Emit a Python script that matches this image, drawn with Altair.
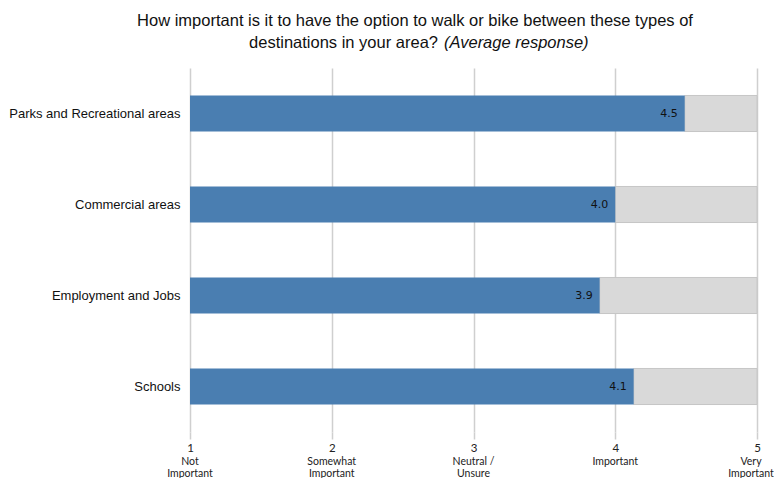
import altair as alt
import pandas as pd

categories = ["Parks and Recreational areas", "Commercial areas", "Employment and Jobs", "Schools"]
values = [4.49, 4.0, 3.89, 4.13]

tick_values = [1, 2, 3, 4, 5]
tick_descriptions = ["Not\nImportant", "Somewhat\nImportant", "Neutral /\nUnsure", "Important", "Very\nImportant"]

title_line1 = "How important is it to have the option to walk or bike between these types of"
title_line2 = "destinations in your area?"
title_italic = "(Average response)"

df = pd.DataFrame({"category": categories, "value": values})
df["start"] = 1
df["end"] = 5
desc_df = pd.DataFrame({"tick": tick_values, "desc": tick_descriptions})

x_scale = alt.Scale(domain=[1, 5], nice=False, zero=False)
y_enc = alt.Y("category:N", sort=categories, title=None,
              scale=alt.Scale(paddingInner=0.604, paddingOuter=0.302),
              axis=alt.Axis(ticks=False, domain=False, labelFont="Liberation Sans",
                            labelFontSize=13, labelColor="#111", labelPadding=10,
                            labelLimit=300))

base = alt.Chart(df)

gray = base.mark_bar(color="#d9d9d9", stroke="#c6c6c6", strokeWidth=1).encode(
    x=alt.X("value:Q", scale=x_scale, title=None,
            axis=alt.Axis(values=tick_values, format="d", grid=True, gridColor="#cfcfcf",
                          gridWidth=1.5, domain=False, tickColor="#cfcfcf", tickWidth=1.5,
                          tickSize=7, labelFont="Lato", labelFontSize=11.5, labelFlush=False,
                          labelColor="#222", labelPadding=3)),
    x2="end:Q",
    y=y_enc,
)

blue = base.mark_bar(color="#4a7eb1").encode(
    x=alt.X("start:Q", scale=x_scale),
    x2="value:Q",
    y=y_enc,
)

labels = base.mark_text(align="right", baseline="middle", dx=-7, font="DejaVu Sans",
                        fontSize=11, color="#111").encode(
    x=alt.X("value:Q", scale=x_scale),
    y=y_enc,
    text=alt.Text("value:Q", format=".1f"),
)

desc_base = alt.Chart(desc_df)
desc = desc_base.transform_filter("datum.tick < 5").mark_text(
    baseline="middle", font="Lato", fontSize=10.5, color="#222",
    lineBreak="\n", lineHeight=12).encode(
    x=alt.X("tick:Q", scale=x_scale),
    y=alt.value(394),
    text="desc:N",
)
desc_last = desc_base.transform_filter("datum.tick == 5").mark_text(
    baseline="middle", font="Lato", fontSize=10.5, color="#222",
    lineBreak="\n", lineHeight=12, dx=-6).encode(
    x=alt.X("tick:Q", scale=x_scale),
    y=alt.value(394),
    text="desc:N",
)

t_df = pd.DataFrame({"t1": [title_line1], "t2": [title_line2], "t3": [title_italic]})
t1 = alt.Chart(t_df).mark_text(align="center", baseline="middle", font="Liberation Sans",
                               fontSize=16.5, color="#111").encode(
    x=alt.value(225), y=alt.value(-47), text="t1:N")
t2 = alt.Chart(t_df).mark_text(align="right", baseline="middle", font="Liberation Sans",
                               fontSize=16.5, color="#111").encode(
    x=alt.value(248), y=alt.value(-25), text="t2:N")
t3 = alt.Chart(t_df).mark_text(align="left", baseline="middle", font="Liberation Sans",
                               fontSize=16.5, fontStyle="italic", color="#111").encode(
    x=alt.value(254), y=alt.value(-25), text="t3:N")

chart = alt.layer(gray, blue, labels, desc, desc_last, t1, t2, t3).properties(
    width=567, height=364,
    autosize=alt.AutoSizeParams(type="none"),
    padding={"left": 182, "top": 60, "right": 17, "bottom": 46},
).configure_view(stroke=None)

chart.save("out.html", embed_options={"renderer": "svg", "actions": False})
